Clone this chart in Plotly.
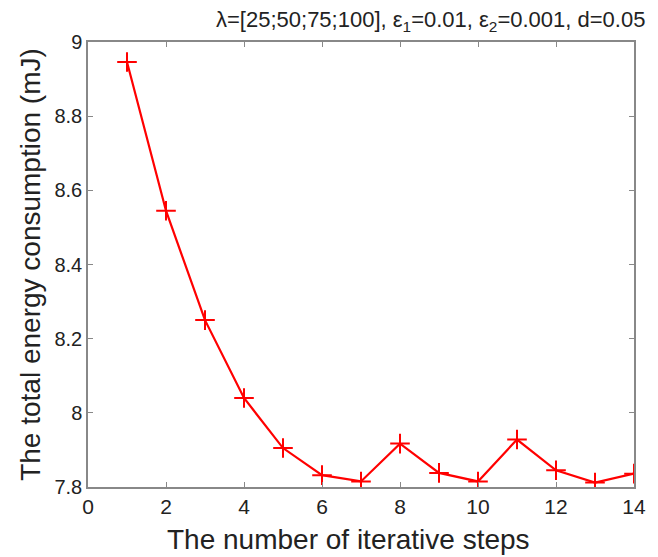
import plotly.graph_objects as go

steps = list(range(1, 15))
energy = [8.946, 8.545, 8.25, 8.04, 7.905, 7.832, 7.815, 7.917, 7.838, 7.815, 7.928, 7.845, 7.812, 7.836]
x_ticks = [0, 2, 4, 6, 8, 10, 12, 14]
y_ticks = [7.8, 8.0, 8.2, 8.4, 8.6, 8.8, 9.0]
y_tick_labels = ["7.8", "8", "8.2", "8.4", "8.6", "8.8", "9"]

fig = go.Figure()
fig.add_trace(go.Scatter(
    x=steps, y=energy, mode="lines+markers",
    line=dict(color="#ff0000", width=2.2),
    marker=dict(symbol="cross-thin", size=14, line=dict(color="#ff0000", width=2)),
))

font = "Liberation Sans, Arial, sans-serif"
fig.update_layout(
    width=658, height=557,
    margin=dict(l=88, r=15, t=42, b=70),
    paper_bgcolor="white", plot_bgcolor="white",
    showlegend=False,
    font=dict(family=font, color="#222222"),
    xaxis=dict(
        range=[0, 14], tickvals=x_ticks, ticks="inside", ticklen=5,
        tickcolor="#888888", showline=True, linecolor="#888888", linewidth=1.5,
        mirror="ticks", showgrid=False, zeroline=False,
        tickfont=dict(size=21, family=font, color="#222222"),
    ),
    yaxis=dict(
        range=[7.8, 9.0], tickvals=y_ticks, ticktext=y_tick_labels, ticks="inside", ticklen=5,
        tickcolor="#888888", showline=True, linecolor="#888888", linewidth=1.5,
        mirror="ticks", showgrid=False, zeroline=False,
        tickfont=dict(size=20, family=font, color="#222222"),
        title=dict(text="The total energy consumption (mJ)", font=dict(size=28, family=font, color="#222222"), standoff=6),
    ),
    annotations=[
        dict(
            text="The number of iterative steps", xref="paper", yref="paper",
            x=0.477, y=-0.118, xanchor="center", yanchor="middle", showarrow=False,
            font=dict(size=28, family=font, color="#222222"),
        ),
        dict(
            text="λ=[25;50;75;100], ε<sub>1</sub>=0.01, ε<sub>2</sub>=0.001, d=0.05",
            xref="paper", yref="paper", x=0.627, y=1.048, xanchor="center", yanchor="middle",
            showarrow=False, font=dict(size=22, family=font, color="#222222"),
        ),
    ],
)

fig.write_html("out.html")
